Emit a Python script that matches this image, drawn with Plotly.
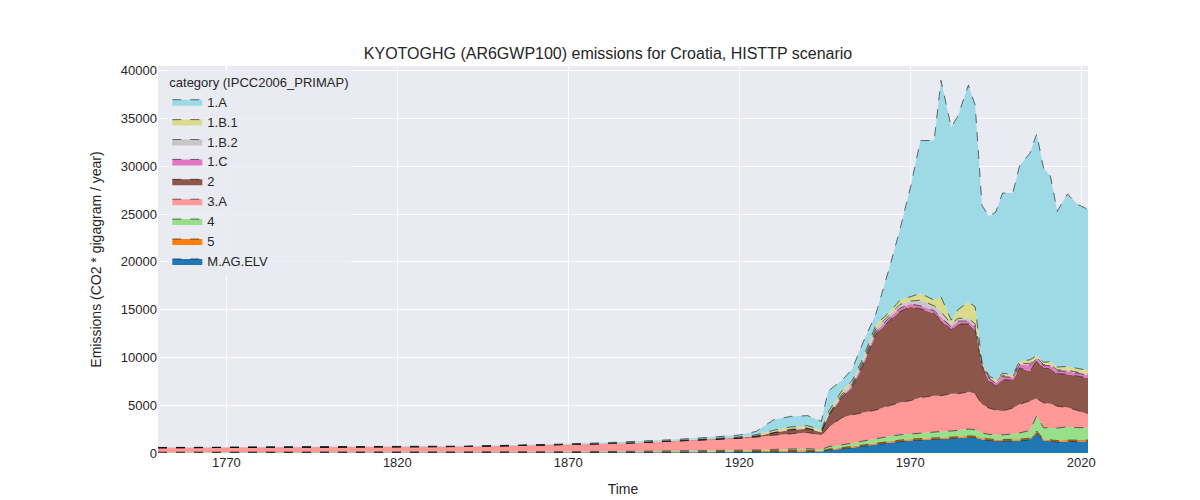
import plotly.graph_objects as go

# years (irregular sampling)
years = [1750, 1760, 1770, 1780, 1790, 1800, 1810, 1820, 1830, 1840, 1850, 1860, 1870, 1880, 1890,
         1900, 1910, 1920, 1925, 1930, 1935, 1940, 1944, 1946, 1950, 1953, 1956, 1960, 1964, 1967,
         1970, 1973, 1977, 1979, 1982, 1984, 1987, 1989, 1991, 1993, 1995, 1997, 2000, 2002, 2005,
         2007, 2009, 2011, 2013, 2016, 2019, 2022]

# emissions per category, gigagram CO2eq / year
m_ag_elv = [10, 10, 10, 10, 10, 10, 10, 10, 10, 10, 20, 20, 30, 40, 50, 60, 80, 100, 120, 150, 180, 200, 150, 300,
            400, 550, 700, 900, 1100, 1200, 1300, 1350, 1400, 1450, 1500, 1550, 1650, 1600, 1400, 1300, 1250, 1250,
            1250, 1300, 1400, 2100, 1300, 1200, 1150, 1200, 1200, 1200]
cat_5 = [20, 20, 20, 20, 20, 20, 20, 20, 20, 20, 20, 20, 20, 20, 30, 40, 50, 60, 60, 70, 80, 80, 60, 100,
         150, 150, 150, 150, 150, 150, 150, 150, 150, 150, 150, 150, 150, 150, 150, 150, 150, 150,
         150, 150, 150, 200, 150, 150, 150, 150, 150, 150]
cat_4 = [60, 60, 60, 60, 60, 60, 65, 65, 70, 70, 80, 80, 90, 90, 100, 100, 110, 120, 130, 150, 160, 170, 150, 250,
         300, 350, 400, 450, 500, 550, 550, 600, 650, 650, 650, 700, 700, 700, 550, 500, 500, 500,
         600, 650, 800, 1600, 1200, 1300, 1300, 1400, 1300, 1300]
cat_3a = [460, 470, 480, 490, 500, 510, 520, 530, 550, 580, 620, 680, 750, 820, 900, 1000, 1120, 1250, 1350, 1500,
          1600, 1700, 1500, 2000, 2850, 2950, 2950, 3000, 3210, 3380, 3480, 3700, 3800, 3750, 3900, 3800, 3900,
          3750, 3000, 2750, 2600, 2500, 2700, 3000, 3100, 1800, 2600, 2500, 2300, 2000, 1800, 1400]
cat_2 = [0, 0, 0, 0, 0, 0, 0, 0, 0, 0, 0, 0, 0, 0, 0, 20, 40, 60, 100, 250, 400, 400, 300, 1200,
         2100, 2860, 4770, 7950, 8940, 9520, 9820, 9300, 8600, 7900, 6700, 7300, 7100, 6700, 3900, 2900, 2500, 3300,
         2900, 3800, 3100, 4000, 3600, 3700, 3400, 3500, 3600, 3800]
cat_1c = [0, 0, 0, 0, 0, 0, 0, 0, 0, 0, 0, 0, 0, 0, 0, 0, 0, 0, 10, 20, 20, 20, 20, 50,
          150, 200, 250, 300, 300, 350, 300, 300, 300, 300, 300, 300, 300, 300, 200, 250, 300, 300,
          300, 400, 600, 200, 300, 300, 300, 300, 300, 300]
cat_1b2 = [0, 0, 0, 0, 0, 0, 0, 0, 0, 0, 0, 0, 0, 0, 0, 10, 10, 10, 20, 30, 40, 40, 30, 80,
           200, 200, 250, 300, 250, 400, 300, 600, 500, 600, 300, 300, 300, 300, 150, 100, 150, 150,
           100, 100, 200, 100, 100, 100, 100, 100, 100, 100]
cat_1b1 = [0, 0, 0, 0, 0, 0, 0, 0, 0, 0, 0, 0, 0, 10, 20, 30, 50, 80, 120, 200, 250, 250, 200, 300,
           350, 300, 300, 400, 300, 450, 450, 700, 600, 1550, 400, 900, 1700, 1800, 150, 150, 200, 200,
           200, 200, 400, 200, 250, 300, 300, 400, 400, 400]
cat_1a = [30, 30, 30, 30, 35, 35, 40, 40, 45, 50, 55, 60, 70, 90, 110, 130, 150, 200, 350, 1100, 1100, 1050, 900,
          2200, 1100, 1190, 1630, 1150, 4750, 7400, 11350, 16000, 16700, 22650, 20200, 20300, 22700, 21100,
          16400, 16700, 17550, 18850, 19000, 20500, 21600, 23200, 20300, 19450, 16300, 18050, 17150, 16850]

# bottom of the stack first
series = [
    ("M.AG.ELV", m_ag_elv, "#1f77b4"),
    ("5", cat_5, "#ff7f0e"),
    ("4", cat_4, "#98df8a"),
    ("3.A", cat_3a, "#ff9896"),
    ("2", cat_2, "#8c564b"),
    ("1.C", cat_1c, "#e377c2"),
    ("1.B.2", cat_1b2, "#c7c7c7"),
    ("1.B.1", cat_1b1, "#dbdb8d"),
    ("1.A", cat_1a, "#9edae5"),
]

fig = go.Figure()
for name, vals, color in series:
    fig.add_trace(go.Scatter(
        x=years, y=vals, name=name, mode="lines", stackgroup="one",
        line=dict(color="rgba(0,0,0,0.8)", width=0.7, dash="dash"),
        fillcolor=color,
    ))

fig.update_layout(
    width=1200, height=500,
    title=dict(text="KYOTOGHG (AR6GWP100) emissions for Croatia, HISTTP scenario",
               x=0.5, y=0.92, font=dict(size=16, color="#262626")),
    font=dict(family="Liberation Sans, Arial", size=13, color="#262626"),
    paper_bgcolor="white", plot_bgcolor="#EAEAF2",
    margin=dict(l=150, r=120, t=58, b=55),
    legend=dict(title=dict(text="category (IPCC2006_PRIMAP)", font=dict(size=13)), traceorder="reversed",
                x=0.01, y=0.99, xanchor="left", yanchor="top",
                bgcolor="rgba(234,234,242,0.8)", font=dict(size=13)),
    showlegend=True,
)
fig.update_xaxes(title_text="Time", range=[1750, 2022], tickvals=[1770, 1820, 1870, 1920, 1970, 2020],
                 gridcolor="white", showline=False, zeroline=False, title_font=dict(size=14))
fig.update_yaxes(title_text="Emissions (CO2 * gigagram / year)", range=[0, 40500], dtick=5000,
                 tickformat="d", gridcolor="white", zeroline=False, title_font=dict(size=14))

fig.write_html("out.html")
